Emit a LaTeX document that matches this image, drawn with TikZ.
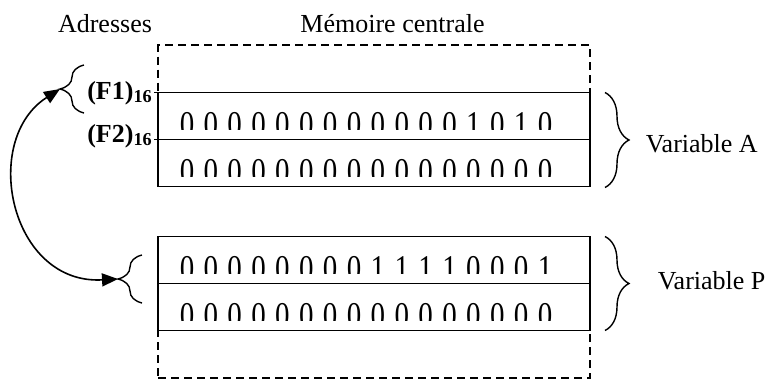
\documentclass[tikz,border=0pt]{standalone}
\usepackage{fontspec}
\setmainfont{Liberation Serif}
\usetikzlibrary{arrows.meta,decorations.pathreplacing}
\newcommand\bitrow[3]{%
  \begin{scope}
    \clip (158,#1) rectangle (590,{#1+37});
    \foreach \d [count=\i from 0] in {#2} {
      \node[bit] (#3-\i) at ({187+23.87*\i},{#1+44}) {\scalebox{1}[1.25]{\d}};
    }
  \end{scope}}
\begin{document}
\begin{tikzpicture}[x=1pt,y=-1pt,line width=1.6pt,
  rowbox/.style={draw,rectangle,minimum width=432pt,minimum height=47pt,inner sep=0pt,outer sep=0pt,anchor=north west},
  dashbox/.style={draw,dash pattern=on 8pt off 5pt,rectangle,minimum width=432pt,minimum height=47.5pt,inner sep=0pt,outer sep=0pt,anchor=north west},
  bit/.style={inner sep=0pt,anchor=base,font=\fontsize{29}{32}\selectfont},
  lbl/.style={font=\fontsize{26}{30}\selectfont,inner sep=0pt},
  addr/.style={font=\fontsize{26}{30}\selectfont\bfseries,inner sep=0pt,anchor=base east},
  brc/.style={decorate,decoration={brace,amplitude=24pt},line width=1.4pt},
  link/.style={{Triangle[length=16pt,width=13pt]}-{Triangle[length=16pt,width=13pt]}}]
\useasboundingbox (0,0) rectangle (769,381);
% titles
\node[lbl,anchor=base] (adr) at (105,32) {Adresses};
\node[lbl,anchor=base] (mem) at (392.5,32) {Mémoire centrale};
% dashed free memory
\node[dashbox] (free1) at (158,45) {};
\node[dashbox] (free2) at (158,330.5) {};
% bits
\bitrow{92.5}{0,0,0,0,0,0,0,0,0,0,0,0,1,0,1,0}{ra}
\bitrow{139.5}{0,0,0,0,0,0,0,0,0,0,0,0,0,0,0,0}{rb}
\bitrow{236.5}{0,0,0,0,0,0,0,0,1,1,1,1,0,0,0,1}{rc}
\bitrow{283.5}{0,0,0,0,0,0,0,0,0,0,0,0,0,0,0,0}{rd}
% rows
\node[rowbox] (row1) at (158,92.5) {};
\node[rowbox] (row2) at (158,139.5) {};
\node[rowbox] (row3) at (158,236.5) {};
\node[rowbox] (row4) at (158,283.5) {};
\draw (row1.north west) -- ++(-4,0);
\draw (row2.north west) -- ++(-4,0);
% addresses
\node[addr] (f1) at (153,99) {(F1)\textsubscript{16}};
\node[addr] (f2) at (153,142) {(F2)\textsubscript{16}};
% braces
\draw[brc] (605,92.5) -- (605,187.5);
\draw[brc] (605,236.5) -- (605,330.5);
\draw[brc] (84,113) -- (84,65);
\draw[brc] (142,303) -- (142,255);
\coordinate (tipF1) at (60,89);
\coordinate (tipP) at (118,279);
\node[lbl,anchor=west] (varA) at (645,144) {Variable A};
\node[lbl,anchor=west] (varP) at (657,281) {Variable P};
% link
\draw[link] (tipF1) .. controls (-20,140) and (10,285) .. (tipP);
\end{tikzpicture}
\end{document}
